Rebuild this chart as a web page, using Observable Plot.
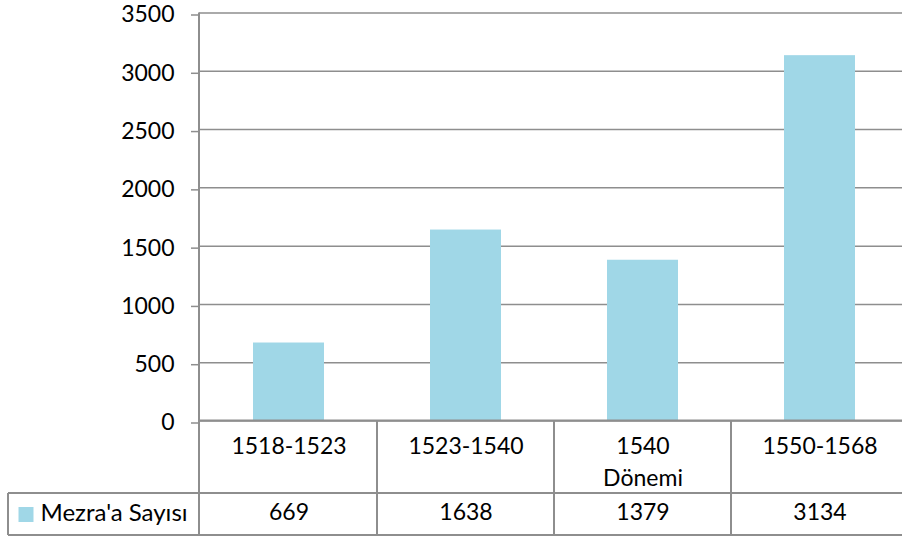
<!DOCTYPE html>
<html><head><meta charset="utf-8">
<script src="https://cdn.jsdelivr.net/npm/d3@7"></script>
<script src="https://cdn.jsdelivr.net/npm/@observablehq/plot@0.6"></script>
<style>body{margin:0;background:#fff} #chart{width:902px;height:540px}</style>
</head><body><div id="chart"></div>
<script>
const categories = ["1518-1523", "1523-1540", "1540\nDönemi", "1550-1568"];
const values = [669, 1638, 1379, 3134];
const yTicks = [0, 500, 1000, 1500, 2000, 2500, 3000, 3500];
const seriesName = "Mezra'a Sayısı";

const barColor = "#a0d7e7";
const lineColor = "#8e8e8e";
const data = categories.map((c, i) => ({category: c, value: values[i]}));

const W = 902, H = 540, ML = 199, MT = 12.5, MB = 119.5;
const FS = 23;
const plot = Plot.plot({
  width: W, height: H,
  marginLeft: ML, marginRight: 0, marginTop: MT, marginBottom: MB,
  style: {fontFamily: "Lato, 'Open Sans', sans-serif", fontSize: FS + "px", color: "#000", background: "#fff", overflow: "visible"},
  x: {domain: categories, range: [ML, 909], paddingInner: 0.6, paddingOuter: 0.3, axis: null},
  y: {domain: [0, 3500], axis: null},
  marks: [
    Plot.ruleY(yTicks, {stroke: lineColor, strokeWidth: 1.5}),
    Plot.axisY({ticks: yTicks, tickFormat: d => String(d), label: null, tickSize: 8, tickPadding: 17, stroke: lineColor, strokeWidth: 1.5, fill: "#000", fontSize: FS, dy: 2}),
    Plot.barY(data, {x: "category", y: "value", fill: barColor}),
    Plot.text(data, {x: "category", text: "category", frameAnchor: "bottom", lineAnchor: "top", dy: 10, lineHeight: 32 / FS, fill: "#000", fontSize: FS}),
    Plot.text(data, {x: "category", text: d => String(d.value), frameAnchor: "bottom", lineAnchor: "middle", dy: 92, fill: "#000", fontSize: FS}),
    Plot.text([seriesName], {frameAnchor: "bottom-left", dx: 40 - ML, dy: 92, textAnchor: "start", lineAnchor: "middle", fill: "#000", fontSize: 24}),
    Plot.dot([seriesName], {frameAnchor: "bottom-left", dx: 25.5 - ML, dy: 93.5, symbol: "square", r: 8.46, fill: barColor, stroke: "none"})
  ]
});
document.getElementById("chart").appendChild(plot);

// data-table borders, positioned from the plot's scales
const xs = plot.scale("x"), ys = plot.scale("y");
const y0 = ys.apply(0), yTop = ys.apply(3500);
const row1 = 493, row2 = 535;
const g = d3.select(plot).append("g").attr("stroke", lineColor).attr("stroke-width", 2).attr("fill", "none");
const half = (xs.step - xs.bandwidth) / 2;
const bounds = categories.map(c => xs.apply(c) - half);
// y axis line
g.append("line").attr("x1", ML).attr("x2", ML).attr("y1", yTop).attr("y2", row2);
// zero line
g.append("line").attr("x1", ML).attr("x2", W).attr("y1", y0).attr("y2", y0);
g.append("line").attr("x1", 8).attr("x2", W).attr("y1", row1).attr("y2", row1);
g.append("line").attr("x1", 8).attr("x2", W).attr("y1", row2).attr("y2", row2);
g.append("line").attr("x1", 8).attr("x2", 8).attr("y1", row1).attr("y2", row2);
bounds.slice(1).forEach(b => g.append("line").attr("x1", b).attr("x2", b).attr("y1", y0).attr("y2", row2));
</script>
</body></html>
